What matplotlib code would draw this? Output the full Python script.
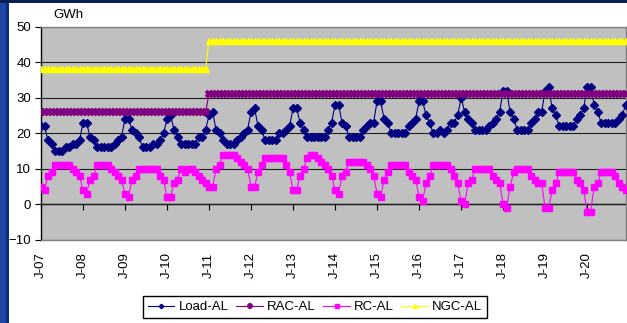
import matplotlib
matplotlib.use("Agg")
import matplotlib.pyplot as plt
from matplotlib.patches import Rectangle

plt.rcParams['font.family'] = ['Liberation Sans', 'DejaVu Sans']

# Monthly values, Jan 2007 .. Dec 2020 (GWh)
tick_labels = ["J-07", "J-08", "J-09", "J-10", "J-11", "J-12", "J-13",
               "J-14", "J-15", "J-16", "J-17", "J-18", "J-19", "J-20"]

load_al = [
    22, 22, 18, 17, 15, 15, 15, 16, 16, 17, 17, 18,   # 2007
    23, 23, 19, 18, 16, 16, 16, 16, 16, 17, 18, 19,   # 2008
    24, 24, 21, 20, 19, 16, 16, 16, 17, 17, 18, 20,   # 2009
    24, 25, 21, 19, 17, 17, 17, 17, 17, 19, 19, 21,   # 2010
    25, 26, 21, 20, 18, 17, 17, 17, 18, 19, 20, 21,   # 2011
    26, 27, 22, 21, 18, 18, 18, 18, 20, 20, 21, 22,   # 2012
    27, 27, 23, 21, 19, 19, 19, 19, 19, 19, 21, 23,   # 2013
    28, 28, 23, 22, 19, 19, 19, 19, 21, 22, 23, 23,   # 2014
    29, 29, 24, 23, 20, 20, 20, 20, 20, 22, 23, 24,   # 2015
    29, 29, 25, 23, 20, 20, 21, 20, 21, 23, 23, 25,   # 2016
    30, 26, 24, 23, 21, 21, 21, 21, 22, 23, 24, 26,   # 2017
    32, 32, 26, 24, 21, 21, 21, 21, 23, 24, 26, 26,   # 2018
    32, 33, 27, 25, 22, 22, 22, 22, 22, 24, 25, 27,   # 2019
    33, 33, 28, 26, 23, 23, 23, 23, 23, 24, 25, 28,   # 2020
]

rac_al = [
    26, 26, 26, 26, 26, 26, 26, 26, 26, 26, 26, 26,   # 2007
    26, 26, 26, 26, 26, 26, 26, 26, 26, 26, 26, 26,   # 2008
    26, 26, 26, 26, 26, 26, 26, 26, 26, 26, 26, 26,   # 2009
    26, 26, 26, 26, 26, 26, 26, 26, 26, 26, 26, 26,   # 2010
    31, 31, 31, 31, 31, 31, 31, 31, 31, 31, 31, 31,   # 2011
    31, 31, 31, 31, 31, 31, 31, 31, 31, 31, 31, 31,   # 2012
    31, 31, 31, 31, 31, 31, 31, 31, 31, 31, 31, 31,   # 2013
    31, 31, 31, 31, 31, 31, 31, 31, 31, 31, 31, 31,   # 2014
    31, 31, 31, 31, 31, 31, 31, 31, 31, 31, 31, 31,   # 2015
    31, 31, 31, 31, 31, 31, 31, 31, 31, 31, 31, 31,   # 2016
    31, 31, 31, 31, 31, 31, 31, 31, 31, 31, 31, 31,   # 2017
    31, 31, 31, 31, 31, 31, 31, 31, 31, 31, 31, 31,   # 2018
    31, 31, 31, 31, 31, 31, 31, 31, 31, 31, 31, 31,   # 2019
    31, 31, 31, 31, 31, 31, 31, 31, 31, 31, 31, 31,   # 2020
]

rc_al = [
    5, 4, 8, 9, 11, 11, 11, 11, 11, 10, 9, 8,         # 2007
    4, 3, 7, 8, 11, 11, 11, 11, 10, 9, 8, 7,          # 2008
    3, 2, 7, 8, 10, 10, 10, 10, 10, 10, 8, 7,         # 2009
    2, 2, 6, 7, 10, 9, 10, 10, 9, 8, 7, 6,            # 2010
    5, 5, 10, 11, 14, 14, 14, 14, 13, 12, 11, 10,     # 2011
    5, 5, 9, 11, 13, 13, 13, 13, 13, 13, 11, 9,       # 2012
    4, 4, 8, 10, 13, 14, 14, 13, 12, 11, 10, 8,       # 2013
    4, 3, 8, 9, 12, 12, 12, 12, 12, 11, 10, 8,        # 2014
    3, 2, 7, 9, 11, 11, 11, 11, 11, 9, 8, 7,          # 2015
    2, 1, 6, 8, 11, 11, 11, 11, 11, 10, 8, 6,         # 2016
    1, 0, 6, 7, 10, 10, 10, 10, 10, 8, 7, 6,          # 2017
    0, -1, 5, 9, 10, 10, 10, 10, 8, 7, 6, 6,          # 2018
    -1, -1, 4, 6, 9, 9, 9, 9, 9, 7, 6, 4,             # 2019
    -2, -2, 5, 6, 9, 9, 9, 9, 8, 6, 5, 4,             # 2020
]

ngc_al = [
    38, 38, 38, 38, 38, 38, 38, 38, 38, 38, 38, 38,   # 2007
    38, 38, 38, 38, 38, 38, 38, 38, 38, 38, 38, 38,   # 2008
    38, 38, 38, 38, 38, 38, 38, 38, 38, 38, 38, 38,   # 2009
    38, 38, 38, 38, 38, 38, 38, 38, 38, 38, 38, 38,   # 2010
    46, 46, 46, 46, 46, 46, 46, 46, 46, 46, 46, 46,   # 2011
    46, 46, 46, 46, 46, 46, 46, 46, 46, 46, 46, 46,   # 2012
    46, 46, 46, 46, 46, 46, 46, 46, 46, 46, 46, 46,   # 2013
    46, 46, 46, 46, 46, 46, 46, 46, 46, 46, 46, 46,   # 2014
    46, 46, 46, 46, 46, 46, 46, 46, 46, 46, 46, 46,   # 2015
    46, 46, 46, 46, 46, 46, 46, 46, 46, 46, 46, 46,   # 2016
    46, 46, 46, 46, 46, 46, 46, 46, 46, 46, 46, 46,   # 2017
    46, 46, 46, 46, 46, 46, 46, 46, 46, 46, 46, 46,   # 2018
    46, 46, 46, 46, 46, 46, 46, 46, 46, 46, 46, 46,   # 2019
    46, 46, 46, 46, 46, 46, 46, 46, 46, 46, 46, 46,   # 2020
]

months = list(range(len(load_al)))
year_ticks = months[::12]

FS = 9.5
W, H = 627, 323
fig = plt.figure(figsize=(W / 100, H / 100), dpi=100, facecolor="white")

# blue frame strips on the left and top of the canvas
fig.patches.append(Rectangle((0, 0), 6 / W, 1, transform=fig.transFigure,
                             facecolor="#1f46a3", edgecolor="none", zorder=0))
fig.patches.append(Rectangle((6 / W, 0), 2.5 / W, 1, transform=fig.transFigure,
                             facecolor="#0c2c80", edgecolor="none", zorder=0))
fig.patches.append(Rectangle((0, 1 - 3 / H), 1, 3 / H, transform=fig.transFigure,
                             facecolor="#0b1d55", edgecolor="none", zorder=0))

left, right, top, bottom = 41, 626, 26.5, 240
ax = fig.add_axes([left / W, 1 - bottom / H, (right - left) / W, (bottom - top) / H])
ax.set_facecolor("#c0c0c0")

ax.plot(months, load_al, color="#000080", lw=0.8, marker="D", ms=3.8,
        mfc="#000080", mec="#000080", label="Load-AL", zorder=3)
ax.plot(months, rac_al, color="#800080", lw=0.8, marker="x", ms=4.6, mew=2.6,
        mec="#800080", label="RAC-AL", zorder=3)
ax.plot(months, rc_al, color="#ff00ff", lw=0.8, marker="s", ms=3.9,
        mfc="#ff00ff", mec="#ff00ff", label="RC-AL", zorder=3)
ax.plot(months, ngc_al, color="#ffff00", lw=0.8, marker="^", ms=5.0,
        mfc="#ffff00", mec="#ffff00", label="NGC-AL", zorder=3)

ax.set_xlim(0, 167.1)
ax.set_ylim(-10, 50)
ax.set_yticks([-10, 0, 10, 20, 30, 40, 50])
ax.yaxis.grid(True, color="#202020", lw=0.8)
ax.set_axisbelow(True)

for side in ("top", "right", "bottom"):
    ax.spines[side].set_color("#808080")
    ax.spines[side].set_linewidth(1.0)
ax.spines["left"].set_color("black")
ax.spines["left"].set_linewidth(1.0)

ax.tick_params(axis="y", direction="out", length=4, width=0.8,
               labelsize=FS, pad=3, colors="black")
ax.set_xticks(year_ticks)
ax.set_xticklabels(tick_labels, rotation=90, fontsize=FS)
ax.tick_params(axis="x", length=0, pad=9)

# category axis crossing at zero, with its tick marks
zero_axis = ax.secondary_xaxis(10 / 60)
zero_axis.set_xticks(year_ticks)
zero_axis.set_xticklabels([])
zero_axis.tick_params(axis="x", direction="out", length=4, width=0.8, colors="black")
zero_axis.spines["bottom"].set_color("black")
zero_axis.spines["bottom"].set_linewidth(1.0)

fig.text(53 / W, 1 - 15 / H, "GWh", fontsize=FS, va="center", ha="left")

leg = ax.legend(loc="center", bbox_to_anchor=(315 / W, 1 - 307 / H),
                bbox_transform=fig.transFigure, ncol=4, fontsize=FS,
                frameon=True, fancybox=False, framealpha=1, edgecolor="black",
                handlelength=2.0, handletextpad=0.3, columnspacing=0.6,
                borderpad=0.35, markerscale=0.6)
leg.get_frame().set_linewidth(1.0)

fig.savefig("out.png", dpi=100, facecolor=fig.get_facecolor())
